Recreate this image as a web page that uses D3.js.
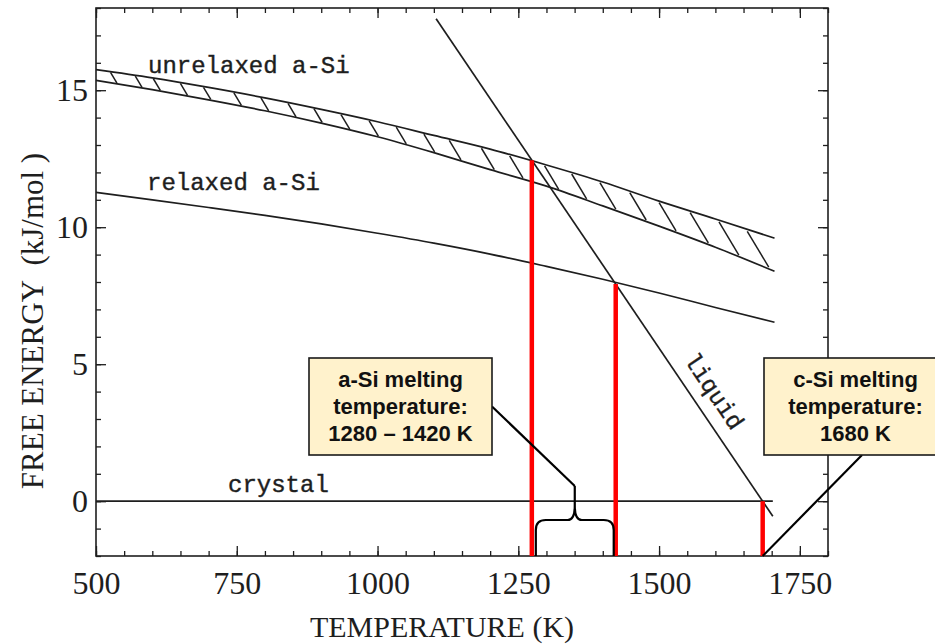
<!DOCTYPE html>
<html>
<head>
<meta charset="utf-8">
<script src="https://cdn.jsdelivr.net/npm/d3@7"></script>
<style>
  body { margin: 0; background: #fff; }
  svg { display: block; }
</style>
</head>
<body>
<div id="chart"></div>
<script>
// values (T in K, free energy in kJ/mol)
var temps = [500, 600, 700, 800, 900, 1000, 1100, 1200, 1300, 1400, 1500, 1600, 1705];
var unrelaxedUpper = [15.75, 15.45, 15.1, 14.72, 14.3, 13.85, 13.35, 12.85, 12.27, 11.65, 10.95, 10.3, 9.6];
var unrelaxedLower = [15.36, 15.02, 14.65, 14.25, 13.8, 13.3, 12.72, 12.1, 11.5, 10.78, 10.04, 9.27, 8.39];
var relaxed = [11.27, 11.0, 10.72, 10.43, 10.12, 9.78, 9.42, 9.02, 8.57, 8.1, 7.6, 7.07, 6.53];

var liquidT = [1104, 1702];
var liquidF = [17.61, -0.55];
var crystalT = [500, 1702];
var crystalF = [0, 0];

// melting points marked in red
var meltT = [1274, 1423, 1684];

// hatch marks between the two unrelaxed curves
var hatchT = [525, 569, 601, 649, 690, 744, 792, 840, 886, 934, 984, 1032, 1081, 1126,
  1183, 1233, 1295, 1343, 1393, 1446, 1498, 1553, 1604, 1654];

var xMajor = [500, 750, 1000, 1250, 1500, 1750];
var xMinor = d3.range(500, 1801, 50);
var yMajor = [0, 5, 10, 15];
var yMinor = d3.range(-2, 19, 1);

var curveNames = ["unrelaxed a-Si", "relaxed a-Si", "crystal", "liquid"];
var boxA = ["a-Si melting", "temperature:", "1280 \u2013 1420 K"];
var boxC = ["c-Si melting", "temperature:", "1680 K"];

var width = 935, height = 644;
var plotLeft = 96, plotRight = 828, plotTop = 8, plotBottom = 556;
var ink = "#1e1e1e";

var svg = d3.select("#chart").append("svg")
  .attr("width", width)
  .attr("height", height);

var x = d3.scaleLinear().domain([500, 1800]).range([plotLeft, plotRight]);
var y = d3.scaleLinear().domain([-2, 18]).range([plotBottom, plotTop]);

// piecewise lookups used for hatching and the red markers
var upperAt = d3.scaleLinear().domain(temps).range(unrelaxedUpper);
var lowerAt = d3.scaleLinear().domain(temps).range(unrelaxedLower);
var liquidAt = d3.scaleLinear().domain(liquidT).range(liquidF);

// ticks: all pointing inwards, on all four sides
function tickAxis(axis, values, size, fmt, pad) {
  return axis.tickValues(values).tickSize(size).tickPadding(pad).tickFormat(fmt);
}
var noLabel = function() { return ""; };

var axes = [
  { g: "translate(0," + plotBottom + ")", a: tickAxis(d3.axisBottom(x), xMajor, -10, d3.format("d"), 15) },
  { g: "translate(0," + plotBottom + ")", a: tickAxis(d3.axisBottom(x), xMinor, -5, noLabel, 0) },
  { g: "translate(0," + plotTop + ")", a: tickAxis(d3.axisTop(x), xMajor, -10, noLabel, 0) },
  { g: "translate(0," + plotTop + ")", a: tickAxis(d3.axisTop(x), xMinor, -5, noLabel, 0) },
  { g: "translate(" + plotLeft + ",0)", a: tickAxis(d3.axisLeft(y), yMajor, -10, d3.format("d"), 8) },
  { g: "translate(" + plotLeft + ",0)", a: tickAxis(d3.axisLeft(y), yMinor, -5, noLabel, 0) },
  { g: "translate(" + plotRight + ",0)", a: tickAxis(d3.axisRight(y), yMajor, -10, noLabel, 0) },
  { g: "translate(" + plotRight + ",0)", a: tickAxis(d3.axisRight(y), yMinor, -5, noLabel, 0) }
];

axes.forEach(function(d) {
  var g = svg.append("g").attr("transform", d.g).call(d.a);
  g.select(".domain").remove();
  g.selectAll("line").attr("stroke", ink).attr("stroke-width", 1.3);
  g.selectAll("text")
    .attr("fill", ink)
    .style("font-family", "'Liberation Serif', serif")
    .style("font-size", "32px");
});

svg.append("rect")
  .attr("x", plotLeft).attr("y", plotTop)
  .attr("width", plotRight - plotLeft).attr("height", plotBottom - plotTop)
  .attr("fill", "none")
  .attr("stroke", ink)
  .attr("stroke-width", 1.6);

// axis titles
svg.append("text")
  .attr("x", 442)
  .attr("y", 637)
  .attr("text-anchor", "middle")
  .attr("fill", ink)
  .style("font-family", "'Liberation Serif', serif")
  .style("font-size", "30px")
  .text("TEMPERATURE (K)");

svg.append("text")
  .attr("transform", "translate(43,321) rotate(-90)")
  .attr("text-anchor", "middle")
  .attr("fill", ink)
  .style("font-family", "'Liberation Serif', serif")
  .style("font-size", "31px")
  .style("white-space", "pre")
  .text("FREE ENERGY  (kJ/mol )");

// curves
var line = d3.line()
  .x(function(d) { return x(d[0]); })
  .y(function(d) { return y(d[1]); })
  .curve(d3.curveMonotoneX);

var series = [
  d3.zip(temps, unrelaxedUpper),
  d3.zip(temps, unrelaxedLower),
  d3.zip(temps, relaxed),
  d3.zip(crystalT, crystalF),
  d3.zip(liquidT, liquidF)
];

svg.selectAll(".curve")
  .data(series)
  .enter().append("path")
  .attr("class", "curve")
  .attr("d", line)
  .attr("fill", "none")
  .attr("stroke", ink)
  .attr("stroke-width", 1.7);

// hatch strokes: slant down-right from the upper curve to the lower one
var hatches = hatchT.map(function(t) {
  var x1 = x(t), y1 = y(upperAt(t));
  var x2 = x1, y2 = y(lowerAt(t));
  for (var i = 0; i < 6; i++) {
    x2 = x1 + 0.6 * (y2 - y1);
    y2 = y(lowerAt(x.invert(x2)));
  }
  return [x1 + 0.06 * (x2 - x1), y1 + 0.06 * (y2 - y1), x1 + 0.94 * (x2 - x1), y1 + 0.94 * (y2 - y1)];
});

svg.selectAll(".hatch")
  .data(hatches)
  .enter().append("line")
  .attr("class", "hatch")
  .attr("x1", function(d) { return d[0]; })
  .attr("y1", function(d) { return d[1]; })
  .attr("x2", function(d) { return d[2]; })
  .attr("y2", function(d) { return d[3]; })
  .attr("stroke", ink)
  .attr("stroke-width", 1.5);

// curve labels
var mono = "'Liberation Mono', monospace";
var labelPos = [[148, 73], [147, 190], [228, 492]];
labelPos.forEach(function(p, i) {
  svg.append("text")
    .attr("x", p[0]).attr("y", p[1])
    .attr("fill", ink)
    .attr("stroke", ink)
    .attr("stroke-width", 0.4)
    .style("font-family", mono)
    .style("font-size", "24px")
    .text(curveNames[i]);
});

// "liquid" runs along the liquid line
var liqAngle = Math.atan2(y(liquidAt(1600)) - y(liquidAt(1500)), x(1600) - x(1500)) * 180 / Math.PI;
svg.append("text")
  .attr("transform", "translate(713,392) rotate(" + liqAngle + ")")
  .attr("text-anchor", "middle")
  .attr("dominant-baseline", "central")
  .attr("fill", ink)
  .attr("stroke", ink)
  .attr("stroke-width", 0.4)
  .style("font-family", mono)
  .style("font-size", "24px")
  .text(curveNames[3]);

// red melting markers
svg.selectAll(".melt")
  .data(meltT)
  .enter().append("line")
  .attr("class", "melt")
  .attr("x1", function(d) { return x(d); })
  .attr("x2", function(d) { return x(d); })
  .attr("y1", function(d) { return y(Math.max(liquidAt(d), 0)); })
  .attr("y2", y(-2))
  .attr("stroke", "#ff0000")
  .attr("stroke-width", 4.5);

// curly brace under the a-Si range
var xl = x(meltT[0]) + 4, xr = x(meltT[1]) - 2, xm = (xl + xr) / 2;
var yb = y(-2), ybar = 520, tipY = 486;
svg.append("path")
  .attr("d", "M" + xl + "," + yb + " L" + xl + "," + (ybar + 10) +
    " Q" + xl + "," + ybar + " " + (xl + 10) + "," + ybar +
    " L" + (xm - 7) + "," + ybar +
    " Q" + xm + "," + ybar + " " + xm + "," + (ybar - 14) +
    " L" + xm + "," + tipY +
    " M" + xm + "," + (ybar - 14) +
    " Q" + xm + "," + ybar + " " + (xm + 7) + "," + ybar +
    " L" + (xr - 10) + "," + ybar +
    " Q" + xr + "," + ybar + " " + xr + "," + (ybar + 10) +
    " L" + xr + "," + yb)
  .attr("fill", "none")
  .attr("stroke", "#000")
  .attr("stroke-width", 2.2);

// callout boxes
function drawBox(bx, by, lines) {
  var bw = 183, bh = 97;
  svg.append("rect")
    .attr("x", bx).attr("y", by)
    .attr("width", bw).attr("height", bh)
    .attr("fill", "#fff2cc")
    .attr("stroke", "#1a1a1a")
    .attr("stroke-width", 1.6);
  svg.selectAll(null)
    .data(lines)
    .enter().append("text")
    .attr("x", bx + bw / 2)
    .attr("y", function(d, i) { return by + 29 + i * 27; })
    .attr("text-anchor", "middle")
    .attr("fill", "#111")
    .style("font-family", "'Liberation Sans', Arial, sans-serif")
    .style("font-weight", "bold")
    .style("font-size", "22px")
    .text(function(d) { return d; });
}

// leader lines
svg.append("line")
  .attr("x1", 492).attr("y1", 406.5)
  .attr("x2", xm).attr("y2", tipY)
  .attr("stroke", "#000").attr("stroke-width", 2.2);

svg.append("line")
  .attr("x1", x(meltT[2])).attr("y1", y(-2))
  .attr("x2", 862).attr("y2", 455)
  .attr("stroke", "#000").attr("stroke-width", 2.2);

drawBox(309, 358, boxA);
drawBox(764, 358, boxC);
</script>
</body>
</html>
